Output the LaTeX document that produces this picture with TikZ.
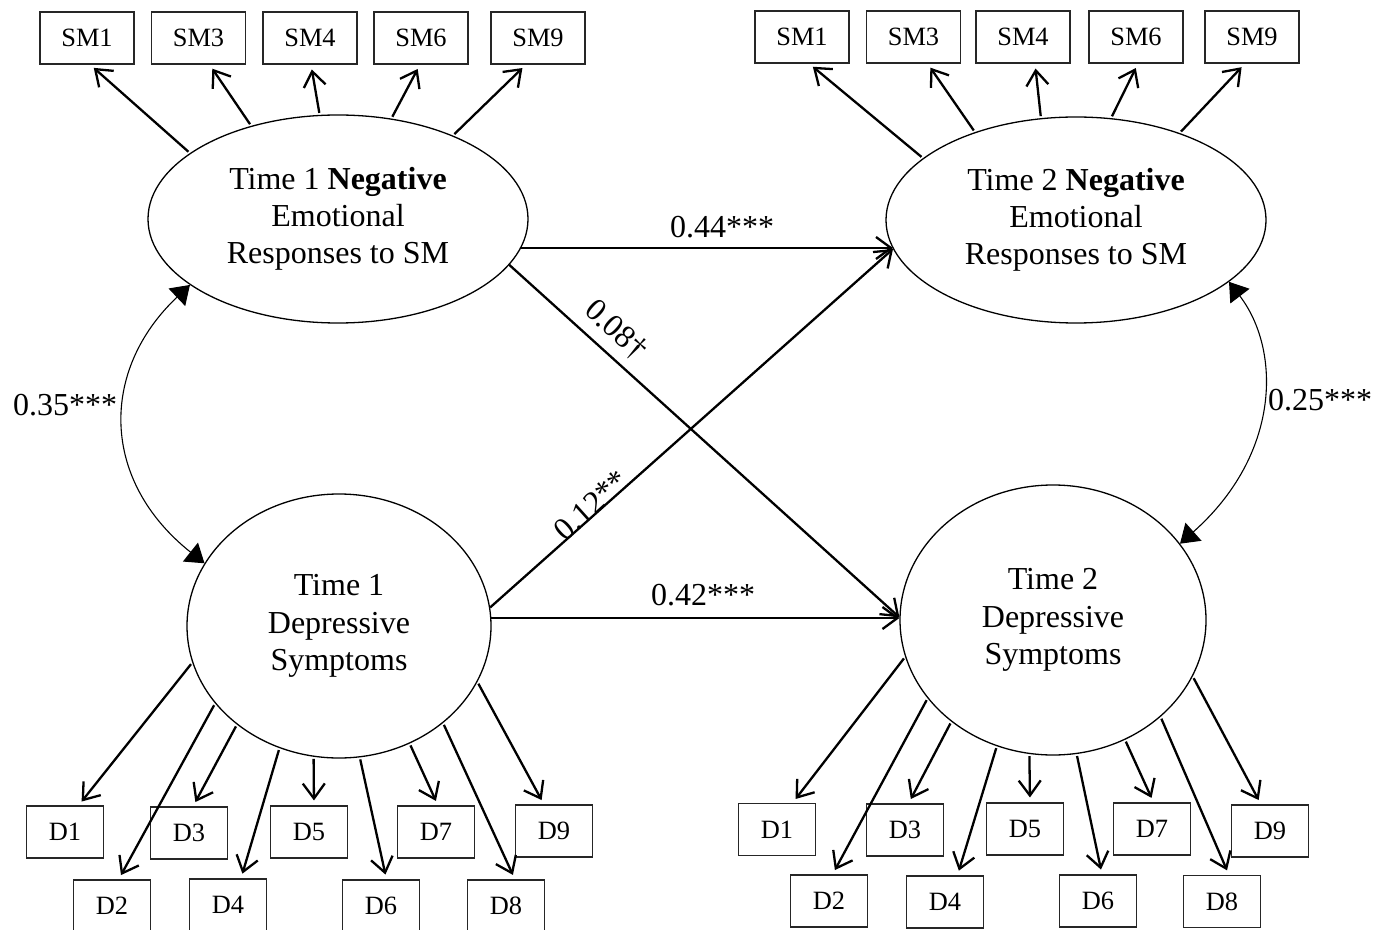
\documentclass[tikz,border=0pt]{standalone}
\usepackage{fontspec}
\setmainfont{Liberation Serif}
\usetikzlibrary{arrows.meta,shapes.geometric,calc}
\begin{document}
\begin{tikzpicture}[x=0.5pt,y=-0.5pt,
  lat/.style={ellipse,draw,line width=0.65pt,inner sep=0pt,align=center,font=\fontsize{16}{18.6}\selectfont},
  obs/.style={rectangle,draw=black!85,line width=0.55pt,minimum height=26pt,inner sep=0pt,font=\fontsize{13.2}{15}\selectfont},
  smbox/.style={obs,minimum width=47pt},
  dbox/.style={obs,minimum width=38.25pt},
  arr/.style={line width=1.15pt,-{Straight Barb[length=7.5pt,width=11pt]},shorten >=2.5pt,shorten <=1pt},
  corr/.style={line width=0.55pt,{Triangle[width=12pt,length=9pt]}-{Triangle[width=12pt,length=9pt]}},
  coef/.style={font=\fontsize{16}{18.6}\selectfont,inner sep=0pt}
]
\useasboundingbox (0,0) rectangle (1374,930);
\clip (0,0) rectangle (1374,930);

% latent variables
\node[lat,minimum width=190pt,minimum height=104pt] (N1) at (338,219) {Time 1 \textbf{Negative}\\Emotional\\Responses to SM};
\node[lat,minimum width=190pt,minimum height=103pt] (N2) at (1076,220) {Time 2 \textbf{Negative}\\Emotional\\Responses to SM};
\node[lat,minimum width=152pt,minimum height=132pt] (T1D) at (339,626) {Time 1\\Depressive\\Symptoms};
\node[lat,minimum width=153pt,minimum height=135pt] (T2D) at (1053,620) {Time 2\\Depressive\\Symptoms};

% SM indicators, time 1
\node[smbox] (sa1) at (87,38) {SM1};
\node[smbox] (sa3) at (198.5,38) {SM3};
\node[smbox] (sa4) at (310,38) {SM4};
\node[smbox] (sa6) at (421,38) {SM6};
\node[smbox] (sa9) at (538,38) {SM9};
% SM indicators, time 2
\node[smbox] (sb1) at (802,37) {SM1};
\node[smbox] (sb3) at (913.5,37) {SM3};
\node[smbox] (sb4) at (1023,37) {SM4};
\node[smbox] (sb6) at (1136,37) {SM6};
\node[smbox] (sb9) at (1252,37) {SM9};

% D indicators, time 1
\node[dbox] (da1) at (65,832) {D1};
\node[dbox] (da3) at (189,833) {D3};
\node[dbox] (da5) at (309,832) {D5};
\node[dbox] (da7) at (436,832) {D7};
\node[dbox] (da9) at (554,831) {D9};
\node[dbox] (da2) at (112,906) {D2};
\node[dbox] (da4) at (228,905) {D4};
\node[dbox] (da6) at (381,906) {D6};
\node[dbox] (da8) at (506,906) {D8};
% D indicators, time 2
\node[dbox] (db1) at (777,829.5) {D1};
\node[dbox] (db3) at (905,830) {D3};
\node[dbox] (db5) at (1025,829) {D5};
\node[dbox] (db7) at (1152,829) {D7};
\node[dbox] (db9) at (1270,831) {D9};
\node[dbox] (db2) at (829,901) {D2};
\node[dbox] (db4) at (945,902) {D4};
\node[dbox] (db6) at (1098,901) {D6};
\node[dbox] (db8) at (1222,901.5) {D8};

% loadings, SM time 1
\draw[arr] (N1.156) -- ($(sa1.south)+(3,0)$);
\draw[arr] (N1.133) -- ($(sa3.south)+(11,0)$);
\draw[arr] (N1.100) -- ($(sa4.south)+(1,0)$);
\draw[arr] (N1.62) -- ($(sa6.south)+(-1,0)$);
\draw[arr] (N1.36) -- ($(sa9.south)+(-12,0)$);
% loadings, SM time 2
\draw[arr] (N2.158) -- ($(sb1.south)+(7,0)$);
\draw[arr] (N2.139) -- ($(sb3.south)+(14,0)$);
\draw[arr] (N2.109) -- ($(sb4.south)+(12,0)$);
\draw[arr] (N2.71) -- ($(sb6.south)+(2,0)$);
\draw[arr] (N2.40) -- ($(sb9.south)+(-7,0)$);

% loadings, D time 1
\draw[arr] (T1D.194) -- ($(da1.north)+(13.5,0)$);
\draw[arr] (T1D.212) -- ($(da2.north)+(6.6,0)$);
\draw[arr] (T1D.224) -- ($(da3.north)+(4,0)$);
\draw[arr] (T1D.244) -- ($(da4.north)+(13,0)$);
\draw[arr] (T1D.259) -- ($(da5.north)+(5,0)$);
\draw[arr] (T1D.279) -- ($(da6.north)+(5.5,0)$);
\draw[arr] (T1D.301) -- ($(da7.north)+(2,0)$);
\draw[arr] (T1D.317) -- ($(da8.north)+(9,0)$);
\draw[arr] (T1D.338) -- ($(da9.north)+(-10,0)$);
% loadings, D time 2
\draw[arr] (T2D.194) -- ($(db1.north)+(15.5,0)$);
\draw[arr] (T2D.212) -- ($(db2.north)+(3.5,0)$);
\draw[arr] (T2D.225) -- ($(db3.north)+(3.5,0)$);
\draw[arr] (T2D.246) -- ($(db4.north)+(12.4,0)$);
\draw[arr] (T2D.260) -- ($(db5.north)+(5,0)$);
\draw[arr] (T2D.280) -- ($(db6.north)+(4,0)$);
\draw[arr] (T2D.301) -- ($(db7.north)+(1.6,0)$);
\draw[arr] (T2D.318) -- ($(db8.north)+(7,0)$);
\draw[arr] (T2D.338) -- ($(db9.north)+(-9,0)$);

% structural paths
\draw[arr,shorten >=0pt,shorten <=0pt] (N1.351) -- (N1.351 -| N2.189);
\draw[arr,shorten >=0pt,shorten <=0pt] (T1D.3) -- (T1D.3 -| T2D.179);
\draw[arr,shorten >=0pt,shorten <=0pt] (N1.345) -- (T2D.179);
\draw[arr,shorten >=0pt,shorten <=0pt] (T1D.7) -- (N2.189);

% correlations
\draw[corr] (N1.204) .. controls (100,370) and (100,480) .. (T1D.155);
\draw[corr] (N2.338) .. controls (1281,350) and (1281,454) .. (T2D.31);

% coefficients
\node[coef] (l44) at (722,227) {0.44***};
\node[coef] (l42) at (703,595) {0.42***};
\node[coef,rotate=-42] (l08) at (616,330) {0.08†};
\node[coef,rotate=42] (l12) at (591,505) {0.12**};
\node[coef] (l35) at (65,405) {0.35***};
\node[coef] (l25) at (1320,400) {0.25***};
\end{tikzpicture}
\end{document}
